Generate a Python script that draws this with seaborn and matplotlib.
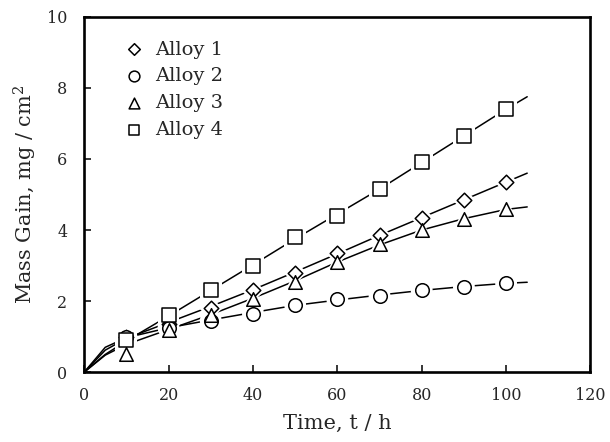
import numpy as np
import pandas as pd
import matplotlib
matplotlib.use("Agg")
import matplotlib.pyplot as plt
import seaborn as sns

# ---- data ----
time_h = [10, 20, 30, 40, 50, 60, 70, 80, 90, 100]
alloy1 = [1.00, 1.35, 1.80, 2.30, 2.80, 3.35, 3.85, 4.35, 4.85, 5.35]
alloy2 = [1.00, 1.25, 1.45, 1.65, 1.90, 2.05, 2.15, 2.30, 2.40, 2.50]
alloy3 = [0.50, 1.20, 1.60, 2.05, 2.55, 3.10, 3.60, 4.00, 4.30, 4.60]
alloy4 = [0.90, 1.60, 2.30, 3.00, 3.80, 4.40, 5.15, 5.90, 6.65, 7.40]

# fitted curve values, t = 0 ... 105
fit_t = [0, 5, 10, 20, 30, 40, 50, 60, 70, 80, 90, 100, 105]
fit1 = [0, 0.62, 0.95, 1.40, 1.85, 2.32, 2.82, 3.33, 3.85, 4.35, 4.85, 5.35, 5.60]
fit2 = [0, 0.70, 0.97, 1.25, 1.47, 1.68, 1.88, 2.03, 2.17, 2.30, 2.41, 2.50, 2.53]
fit3 = [0, 0.48, 0.78, 1.20, 1.62, 2.08, 2.57, 3.10, 3.58, 4.00, 4.32, 4.58, 4.65]
fit4 = [0, 0.50, 0.88, 1.58, 2.30, 3.02, 3.75, 4.45, 5.15, 5.90, 6.65, 7.40, 7.75]

labels = ["Alloy 1", "Alloy 2", "Alloy 3", "Alloy 4"]
markers = ["D", "o", "^", "s"]
msizes = [55, 95, 95, 95]

pts = pd.DataFrame({
    "t": time_h * 4,
    "m": alloy1 + alloy2 + alloy3 + alloy4,
    "alloy": sum([[l] * len(time_h) for l in labels], []),
})
fit = pd.DataFrame({
    "t": fit_t * 4,
    "m": fit1 + fit2 + fit3 + fit4,
    "alloy": sum([[l] * len(fit_t) for l in labels], []),
})

sns.set_style("ticks")
plt.rcParams["font.family"] = ["DejaVu Serif"]
plt.rcParams["mathtext.fontset"] = "dejavuserif"

fig, ax = plt.subplots(figsize=(6.10, 4.42), dpi=100)
fig.subplots_adjust(left=0.138, right=0.968, top=0.962, bottom=0.158)

sns.lineplot(data=fit, x="t", y="m", hue="alloy", palette=["black"] * 4,
             legend=False, ax=ax, lw=1.1, zorder=1)

for lab, mk, s in zip(labels, markers, msizes):
    sub = pts[pts.alloy == lab]
    # white halo to break the line around the marker
    sns.scatterplot(data=sub, x="t", y="m", marker=mk, s=s * 2.6, color="white",
                    edgecolor="none", linewidth=0, ax=ax, zorder=2, legend=False)
    sns.scatterplot(data=sub, x="t", y="m", marker=mk, s=s, facecolor="white",
                    edgecolor="black", linewidth=1.1, ax=ax, zorder=3,
                    label=lab)

ax.set_xlim(0, 120)
ax.set_ylim(0, 10)
ax.set_xticks(range(0, 121, 20))
ax.set_yticks(range(0, 11, 2))
ax.tick_params(direction="in", length=5, width=1.3, labelsize=11.5, pad=11,
               top=False, right=False)
ax.tick_params(axis="y", pad=12)
for sp in ax.spines.values():
    sp.set_linewidth(1.9)
    sp.set_color("black")

ax.set_xlabel("Time, t / h", fontsize=15, labelpad=7)
ax.set_ylabel("Mass Gain, mg / cm$^2$", fontsize=15, labelpad=6)

leg = ax.legend(loc="upper left", frameon=False, fontsize=14,
                bbox_to_anchor=(0.06, 0.955), handletextpad=0.5,
                labelspacing=0.45, borderaxespad=0, handlelength=1.2)
for h, s in zip(leg.legend_handles, [35, 60, 60, 60]):
    h.set_sizes([s])

fig.savefig("out.png", dpi=100)
